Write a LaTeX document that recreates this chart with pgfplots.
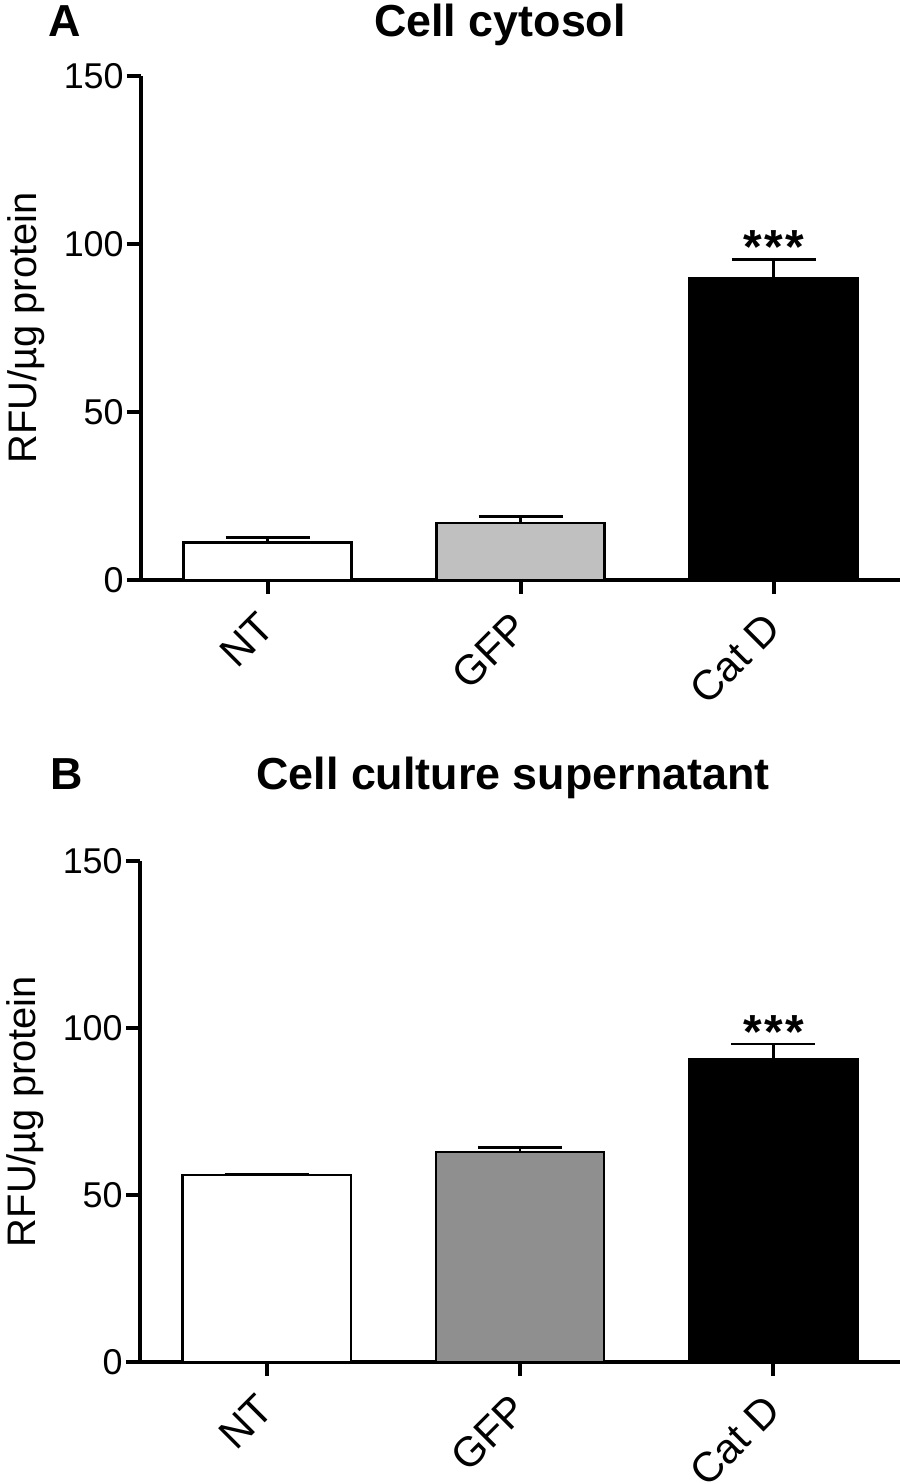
\documentclass[border=0pt]{standalone}
\usepackage{fontspec}
\setmainfont{Liberation Sans}
\usepackage{pgfplots}
\pgfplotsset{compat=1.18}
\definecolor{lgray}{RGB}{192,192,192}
\definecolor{mgray}{RGB}{143,143,143}

\pgfplotsset{
  prism/.style={
    scale only axis, width=379.5bp, height=252bp,
    axis lines=left, axis line style={-, line width=2bp},
    xmin=-0.5, xmax=2.5, ymin=0, ymax=150,
    ytick={0,50,100,150}, xtick={0,1,2}, xticklabels={NT,GFP,Cat D},
    tick align=outside, major tick length=7bp,
    tick style={line width=2bp, black},
    y tick label style={font=\fontsize{18}{20}\selectfont, inner sep=1.5bp},
    /pgf/number format/assume math mode=true,
    x tick label style={font=\fontsize{21}{24}\selectfont, rotate=45, anchor=north east, inner sep=1.5bp, xshift=-8bp, yshift=0bp},
    ylabel={RFU/µg protein},
    ylabel style={font=\fontsize{20}{24}\selectfont, at={(axis description cs:-0.118,0.5)}, anchor=south},
    clip=false,
  },
  pbar/.style={ybar, bar width=0.665, line width=1.2bp, draw=black, fill=#1,
    error bars/.cd, y dir=plus, y explicit,
    error bar style={line width=1.4bp, black},
    error mark options={black, line width=1.4bp, mark size=21bp, rotate=90}},
}
\newcommand{\stars}{*\kern1.2bp*\kern1.2bp*}

\begin{document}
\begin{tikzpicture}
\useasboundingbox (0,0) rectangle (450bp,742bp);

% Panel A
\node[anchor=base, font=\bfseries\fontsize{22.5}{26}\selectfont] at (32.5bp,723.5bp) {A};
\node[anchor=base, font=\bfseries\fontsize{22.5}{26}\selectfont] at (250bp,723.5bp) {Cell cytosol};
\begin{axis}[prism, at={(70.5bp,452bp)}, anchor=south west]
\addplot[pbar=white] coordinates {(0,11.2) +- (0,1.5)};
\addplot[pbar=lgray] coordinates {(1,16.9) +- (0,2.0)};
\addplot[pbar=black] coordinates {(2,89.8) +- (0,5.7)};
\node[anchor=base, yshift=-2bp, font=\bfseries\fontsize{24}{26}\selectfont] at (axis cs:2,95.5) {\stars};
\end{axis}

% Panel B
\node[anchor=base, font=\bfseries\fontsize{22.5}{26}\selectfont] at (33.5bp,347bp) {B};
\node[anchor=base, font=\bfseries\fontsize{22.5}{26}\selectfont] at (256.5bp,347bp) {Cell culture supernatant};
\begin{axis}[prism, height=250.5bp, width=380bp, at={(70bp,61bp)}, anchor=south west]
\addplot[pbar=white] coordinates {(0,55.9) +- (0,0.4)};
\addplot[pbar=mgray] coordinates {(1,62.8) +- (0,1.4)};
\addplot[pbar=black] coordinates {(2,90.7) +- (0,4.5)};
\node[anchor=base, yshift=-2bp, font=\bfseries\fontsize{24}{26}\selectfont] at (axis cs:2,95.2) {\stars};
\end{axis}
\end{tikzpicture}
\end{document}
